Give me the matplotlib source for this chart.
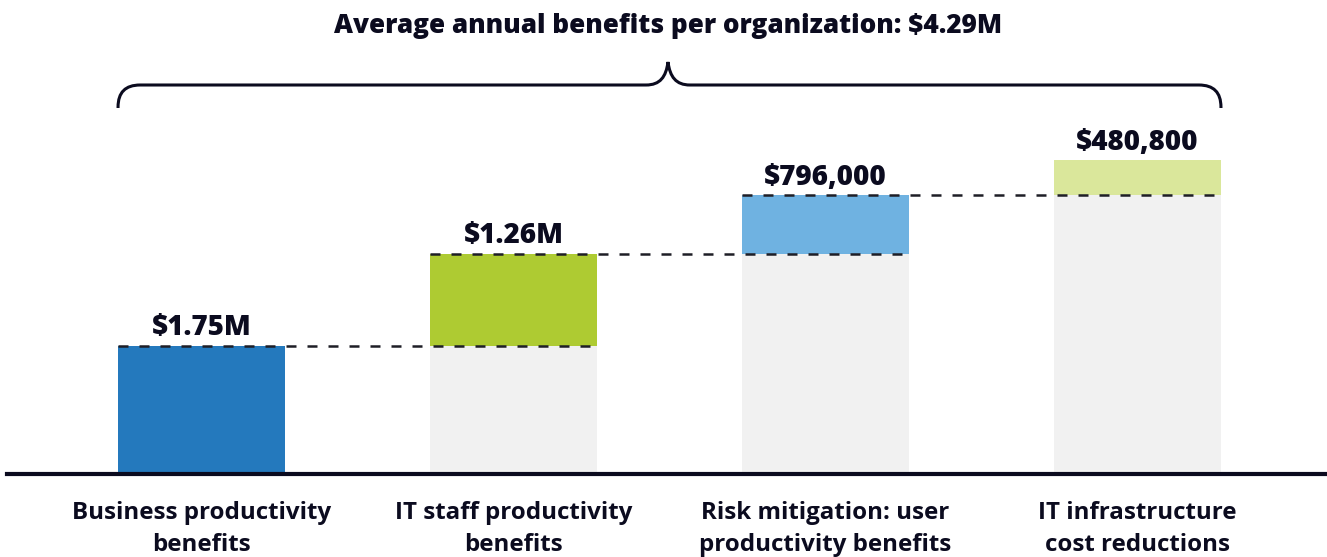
import matplotlib.pyplot as plt
import numpy as np
from matplotlib.path import Path
from matplotlib.patches import PathPatch

# data
categories = ['Business productivity\nbenefits', 'IT staff productivity\nbenefits',
              'Risk mitigation: user\nproductivity benefits', 'IT infrastructure\ncost reductions']
values = [1.75, 1.26, 0.796, 0.4808]   # $M
value_labels = ['$1.75M', '$1.26M', '$796,000', '$480,800']
title = 'Average annual benefits per organization: $4.29M'

colors = ['#2479BD', '#AECB32', '#6FB2E1', '#DAE79B']
base_color = '#F1F1F1'
ink = '#0B0B1F'

plt.rcParams['font.family'] = ['Open Sans', 'DejaVu Sans']

W, H = 1327, 557
fig = plt.figure(figsize=(W / 100, H / 100), dpi=100)
ax = fig.add_axes([0, 0, 1, 1])

x = np.arange(len(values))
bottoms = np.concatenate([[0], np.cumsum(values)[:-1]])
tops = bottoms + np.array(values)
width = 0.535

# gray base under floating bars
ax.bar(x[1:], bottoms[1:], width=width, color=base_color, zorder=1)
ax.bar(x, values, bottom=bottoms, width=width, color=colors, zorder=2)

# dashed connectors
for i in range(len(values) - 1):
    ax.hlines(tops[i], x[i] - width / 2, x[i + 1] + width / 2, colors='#1E1E26',
              linewidth=1.8, linestyles=(0, (4.0, 4.4)), zorder=3)

for xi, t, lab in zip(x, tops, value_labels):
    ax.annotate(lab, (xi, t), xytext=(0, 7.5), textcoords='offset points',
                ha='center', va='baseline', fontsize=20, fontweight='heavy', color=ink)

# scale: bar centers every 312 px starting at 201.5 px, baseline at 474 px from top
px_per_unit_x = 312
px_per_unit_y = 73.25
ax.set_xlim(-201.5 / px_per_unit_x, (W - 201.5) / px_per_unit_x)
ax.set_ylim(-(H - 474) / px_per_unit_y, 474 / px_per_unit_y)
ax.axis('off')

# baseline
ax.axhline(0, xmin=7 / W, xmax=1, color=ink, linewidth=3, zorder=4)

# category labels
for xi, cat in zip(x, categories):
    ax.text(xi, -(529 - 474) / px_per_unit_y, cat, ha='center', va='center',
            fontsize=17.4, fontweight='bold', color=ink, linespacing=1.4)

fig.text(668 / W, 1 - 26 / H, title, ha='center', va='center',
         fontsize=18.8, fontweight='heavy', color=ink)

# brace in pixel coordinates
ov = fig.add_axes([0, 0, 1, 1])
ov.set_xlim(0, W)
ov.set_ylim(H, 0)
ov.axis('off')
ov.patch.set_alpha(0)
L = ax.transData.transform((x[0] - width / 2, 0))[0]
R = ax.transData.transform((x[-1] + width / 2, 0))[0]
M = 668
yb, yh, yp, r = 108, 85, 62, 22
verts = [(L, yb), (L, yh + r),
         (L, yh), (L + r, yh),
         (M - r, yh),
         (M - 8, yh), (M - 2, yh - 8), (M, yp),
         (M + 2, yh - 8), (M + 8, yh), (M + r, yh),
         (R - r, yh),
         (R, yh), (R, yh + r),
         (R, yb)]
codes = [Path.MOVETO, Path.LINETO,
         Path.CURVE3, Path.CURVE3,
         Path.LINETO,
         Path.CURVE4, Path.CURVE4, Path.CURVE4,
         Path.CURVE4, Path.CURVE4, Path.CURVE4,
         Path.LINETO,
         Path.CURVE3, Path.CURVE3,
         Path.LINETO]
ov.add_patch(PathPatch(Path(verts, codes), facecolor='none', edgecolor=ink, linewidth=2.2))

fig.savefig('out.png', dpi=100, facecolor='white')
